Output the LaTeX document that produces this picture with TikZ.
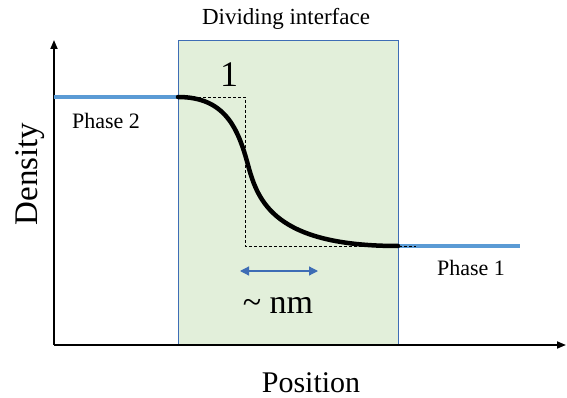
\documentclass[tikz,border=0pt]{standalone}
\usepackage{fontspec}
\setmainfont{Liberation Serif}
\usetikzlibrary{arrows.meta}
\definecolor{boxgreen}{HTML}{E2EFDA}
\definecolor{boxblue}{HTML}{3E6DB5}
\definecolor{phaseblue}{HTML}{5B9BD5}
\begin{document}
\begin{tikzpicture}[x=1pt,y=-1pt,
  axis/.style={line width=1.8pt,-{Triangle[length=9pt,width=7pt]}},
  phaseline/.style={phaseblue,line width=3.8pt},
  lbl/.style={inner sep=0pt,font=\fontsize{22}{24}\selectfont}]
\useasboundingbox (0,0) rectangle (567,398);
% dividing interface box
\node[draw=boxblue,line width=1.4pt,fill=boxgreen,minimum width=220pt,minimum height=305pt,inner sep=0pt,anchor=north west] (box) at (178,40) {};
% axes
\coordinate (O) at (54,345);
\coordinate (ytop) at (54,40);
\coordinate (xend) at (566,345);
\draw[axis] (O) -- (ytop);
\draw[axis] (O) -- (xend);
% phase lines
\coordinate (p2a) at (54,97);
\coordinate (p2b) at (178,97);
\coordinate (p1a) at (398,246);
\coordinate (p1b) at (520,246);
\draw[phaseline] (p2a) -- (p2b);
\draw[phaseline] (p1a) -- (p1b);
% dashed rectangle
\coordinate (dA) at (245,97);
\coordinate (dB) at (245,246);
\coordinate (dC) at (416,246);
\draw[line width=0.7pt,dash pattern=on 3pt off 2pt] (p2b) -- (dA) -- (dB) -- (dC);
% profile
\coordinate (mid) at (248,165);
\draw[line width=4.5pt,line cap=round] (p2b) .. controls (225,97) and (238,128) .. (mid) .. controls (258,202) and (275,246) .. (p1a);
% width arrow
\coordinate (wa) at (240,271);
\coordinate (wb) at (318,271);
\draw[boxblue,line width=1.2pt,{Triangle[length=9pt,width=9pt]}-{Triangle[length=9pt,width=9pt]}] (wa) -- (wb);
% labels
\node[lbl,font=\fontsize{23}{25}\selectfont] (title) at (286,19) {Dividing interface};
\node[lbl,font=\fontsize{36}{38}\selectfont] (one) at (229,75) {1};
\node[lbl] (ph2) at (106,121) {Phase 2};
\node[lbl] (ph1) at (471,268) {Phase 1};
\node[lbl,font=\fontsize{34}{36}\selectfont] (nm) at (278,305) {\textasciitilde\ nm};
\node[lbl,font=\fontsize{30}{32}\selectfont] (pos) at (311,383) {Position};
\node[lbl,font=\fontsize{33}{35}\selectfont,rotate=90] (den) at (30,174) {Density};
\end{tikzpicture}
\end{document}
